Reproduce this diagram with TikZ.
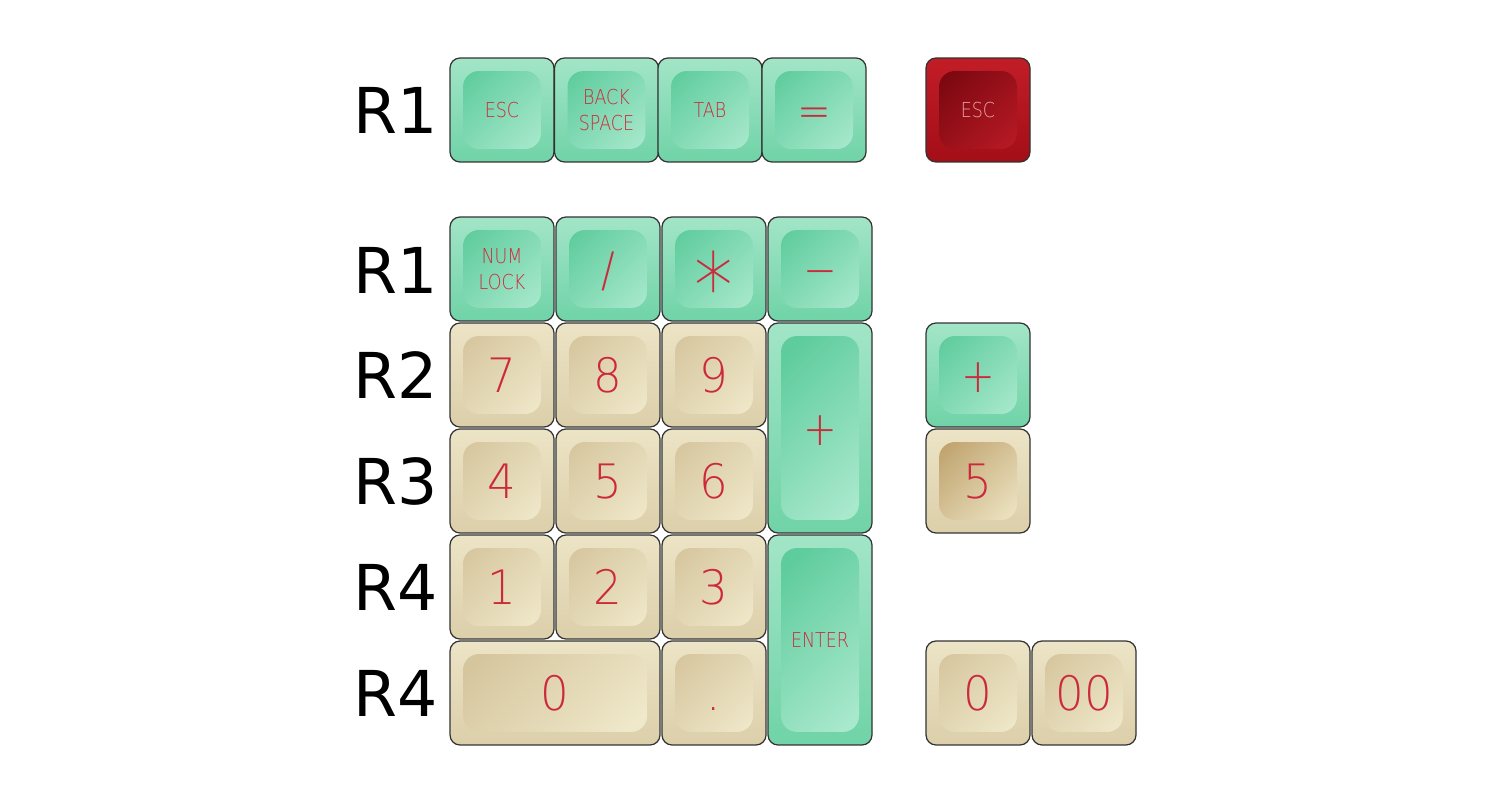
\documentclass[tikz,border=0pt]{standalone}
\usepackage{fontspec}
\setmainfont{DejaVu Sans}
\newfontfamily\lblfont[FakeStretch=0.85]{DejaVu Sans ExtraLight}
\newfontfamily\digfont[FakeStretch=0.95]{DejaVu Sans ExtraLight}
\definecolor{keyred}{HTML}{CC2A3C}
\definecolor{keyline}{HTML}{333333}
\definecolor{gOutTop}{HTML}{A2E5C7}
\definecolor{gOutBot}{HTML}{70D3A7}
\definecolor{gDishA}{HTML}{5ECC9D}
\definecolor{gDishB}{HTML}{A8E8CC}
\definecolor{bOutTop}{HTML}{ECE4C6}
\definecolor{bOutBot}{HTML}{DCCFAA}
\definecolor{bDishA}{HTML}{D6C69E}
\definecolor{bDishB}{HTML}{EFE8CA}
\definecolor{rOutTop}{HTML}{C21D27}
\definecolor{rOutBot}{HTML}{A30E17}
\definecolor{rDishA}{HTML}{790710}
\definecolor{rDishB}{HTML}{B81A24}
\definecolor{fDishA}{HTML}{BFA26D}
\definecolor{fDishB}{HTML}{EDE4C3}
\definecolor{escpink}{HTML}{E8A4A0}
\tikzset{
  keybase/.style={draw=keyline, line width=0.7pt, rounded corners=0.2cm,
    inner sep=0pt, outer sep=0pt, minimum width=2.08cm, minimum height=2.08cm,
    text=keyred},
  dish/.style 2 args={path picture={\shade[rounded corners=0.32cm, top color=#1, bottom color=#2, shading angle=45]
    ([shift={(13,13)}]path picture bounding box.north west) rectangle
    ([shift={(-13,-13)}]path picture bounding box.south east);}},
  greenkey/.style={keybase, top color=gOutTop, bottom color=gOutBot, dish={gDishA}{gDishB}},
  beigekey/.style={keybase, top color=bOutTop, bottom color=bOutBot, dish={bDishA}{bDishB}},
  fivekey/.style={keybase, top color=bOutTop, bottom color=bOutBot, dish={fDishA}{fDishB}},
  redkey/.style={keybase, top color=rOutTop, bottom color=rOutBot, dish={rDishA}{rDishB}, text=escpink},
  wide/.style={minimum width=4.20cm},
  tall/.style={minimum height=4.20cm},
  small/.style={font=\lblfont\fontsize{11.7}{14.7}\selectfont},
  twoline/.style={small, align=center},
  big/.style={font=\digfont\fontsize{27}{30}\selectfont, text height=19.7pt, text depth=0pt},
  sym/.style={font=\lblfont\fontsize{27}{30}\selectfont, text height=19.4pt, text depth=0pt},
  star/.style={font=\lblfont\fontsize{52}{54}\selectfont, text height=36pt, text depth=0pt},
  rowlbl/.style={font=\fontsize{36}{40}\selectfont, inner sep=0pt, text=black},
}
\begin{document}
\begin{tikzpicture}[x=0.02cm, y=-0.02cm]
\useasboundingbox (0,0) rectangle (1500,804);
% row labels
\node[rowlbl] (l0) at (396,110) {R1};
\node[rowlbl] (l1) at (396,270) {R1};
\node[rowlbl] (l2) at (396,375) {R2};
\node[rowlbl] (l3) at (396,481) {R3};
\node[rowlbl] (l4) at (396,587) {R4};
\node[rowlbl] (l5) at (396,693) {R4};
% top row
\node[greenkey, small] (esc) at (502,110) {ESC};
\node[greenkey, twoline] (bsp) at (606.5,110) {BACK\\SPACE};
\node[greenkey, small] (tab) at (710,110) {TAB};
\node[greenkey, sym] (eq) at (814,110) {=};
\node[redkey, small] (resc) at (978,110) {ESC};
% row 1
\node[greenkey, twoline] (num) at (502,269) {NUM\\LOCK};
\node[greenkey, sym] (div) at (608,269) {/};
\node[greenkey, star] (mul) at (714,269) {∗};
\node[greenkey, sym] (min) at (820,269) {−};
% rows 2-4
\node[beigekey, big] (k7) at (502,375) {7};
\node[beigekey, big] (k8) at (608,375) {8};
\node[beigekey, big] (k9) at (714,375) {9};
\node[greenkey, tall, sym] (plus) at (820,428) {+};
\node[beigekey, big] (k4) at (502,481) {4};
\node[beigekey, big] (k5) at (608,481) {5};
\node[beigekey, big] (k6) at (714,481) {6};
\node[beigekey, big] (k1) at (502,587) {1};
\node[beigekey, big] (k2) at (608,587) {2};
\node[beigekey, big] (k3) at (714,587) {3};
\node[greenkey, tall, small] (enter) at (820,640) {ENTER};
\node[beigekey, wide, big] (k0) at (555,693) {0};
\node[beigekey, big] (dot) at (714,693) {.};
% right column
\node[greenkey, sym] (rplus) at (978,375) {+};
\node[fivekey, big] (r5) at (978,481) {5};
\node[beigekey, big] (r0) at (978,693) {0};
\node[beigekey, big] (r00) at (1084,693) {00};
\end{tikzpicture}
\end{document}
